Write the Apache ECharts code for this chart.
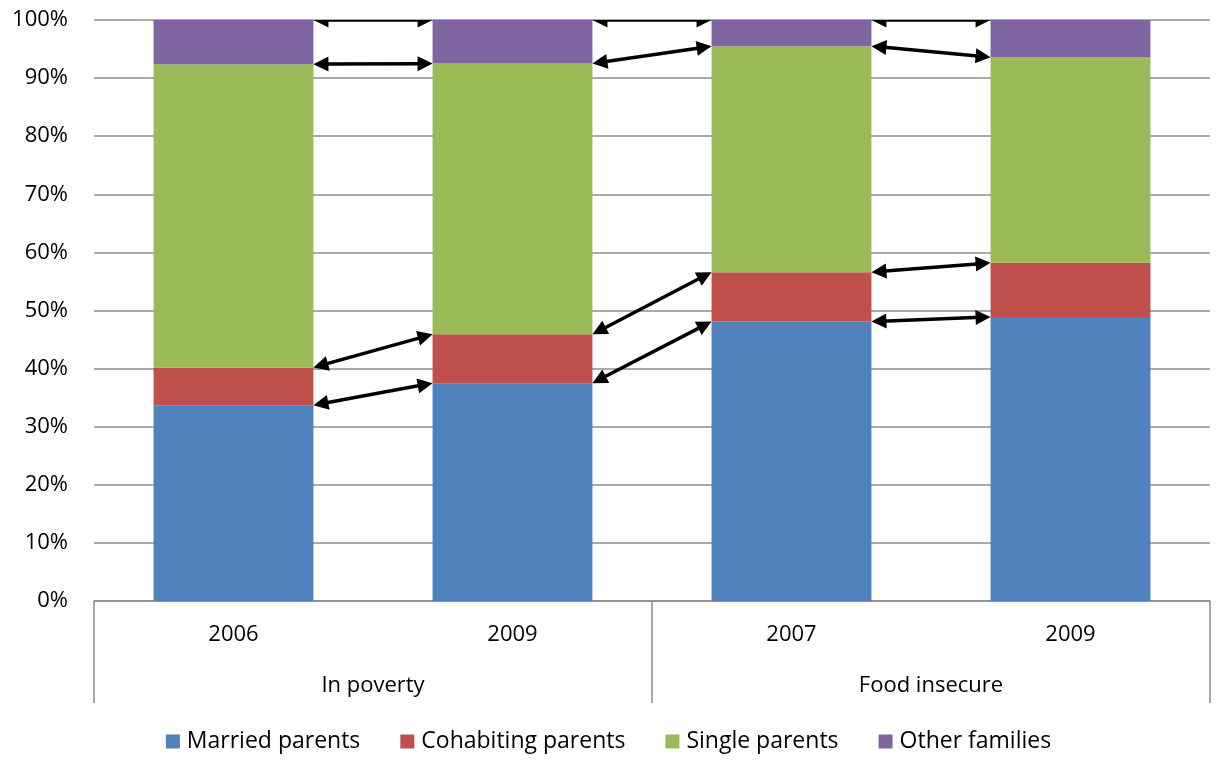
<!DOCTYPE html>
<html>
<head>
<meta charset="utf-8">
<script src="https://cdn.jsdelivr.net/npm/echarts@6/dist/echarts.min.js"></script>
<style>
html,body{margin:0;padding:0;background:#fff;}
#chart{width:1217px;height:762px;}
</style>
</head>
<body>
<div id="chart"></div>
<script>
const years = ['2006', '2009', '2007', '2009'];
const groups = ['In poverty', 'Food insecure'];
const seriesNames = ['Married parents', 'Cohabiting parents', 'Single parents', 'Other families'];
const married = [33.7, 37.5, 48.1, 48.9];
const cohabiting = [6.5, 8.4, 8.5, 9.3];
const single = [52.2, 46.6, 38.9, 35.4];
const other = [7.6, 7.5, 4.5, 6.4];
const yTicks = { min: 0, max: 100, interval: 10 };

const colors = ['#4F81BD', '#C0504D', '#9BBB59', '#8064A2'];
const FONT = 'Open Sans';
const BAR_RATIO = 0.573;

const layers = [married, cohabiting, single, other];
// cumulative tops of each layer
const cum = [];
layers.forEach((arr, k) => {
  cum.push(arr.map((v, i) => (k ? cum[k - 1][i] : 0) + v));
});
// arrows between adjacent bars at each boundary
const arrowData = [];
cum.forEach(c => {
  for (let i = 0; i < c.length - 1; i++) arrowData.push([i, c[i], c[i + 1]]);
});

function renderArrow(params, api) {
  const i = api.value(0);
  const a = api.coord([i, api.value(1)]);
  const b = api.coord([i + 1, api.value(2)]);
  const band = api.size([1, 0])[0];
  const half = band * BAR_RATIO / 2;
  const x1 = a[0] + half, y1 = a[1], x2 = b[0] - half, y2 = b[1];
  const dx = x2 - x1, dy = y2 - y1, len = Math.sqrt(dx * dx + dy * dy);
  const ux = dx / len, uy = dy / len, nx = -uy, ny = ux;
  const L = 15, W = 7.5;
  const style = { fill: '#000' };
  return {
    type: 'group',
    children: [
      { type: 'line', shape: { x1: x1 + ux * L * 0.7, y1: y1 + uy * L * 0.7, x2: x2 - ux * L * 0.7, y2: y2 - uy * L * 0.7 }, style: { stroke: '#000', lineWidth: 3.5 } },
      { type: 'polygon', shape: { points: [[x2, y2], [x2 - ux * L + nx * W, y2 - uy * L + ny * W], [x2 - ux * L - nx * W, y2 - uy * L - ny * W]] }, style },
      { type: 'polygon', shape: { points: [[x1, y1], [x1 + ux * L + nx * W, y1 + uy * L + ny * W], [x1 + ux * L - nx * W, y1 + uy * L - ny * W]] }, style }
    ]
  };
}

const chart = echarts.init(document.getElementById('chart'));
const series = layers.map((arr, k) => ({
  name: seriesNames[k],
  type: 'bar',
  stack: 'total',
  barWidth: (BAR_RATIO * 100) + '%',
  itemStyle: { color: colors[k] },
  data: arr,
  xAxisIndex: 0,
  yAxisIndex: 0
}));
series.push({
  type: 'custom',
  name: 'arrows',
  xAxisIndex: 0,
  yAxisIndex: 0,
  clip: true,
  silent: true,
  z: 5,
  encode: { x: 0, y: [1, 2] },
  data: arrowData,
  renderItem: renderArrow
});

chart.setOption({
  animation: false,
  textStyle: { fontFamily: FONT },
  grid: { left: 94, right: 7, top: 20, bottom: 161, containLabel: false },
  legend: {
    data: seriesNames,
    bottom: 4,
    left: 'center',
    itemWidth: 14,
    itemHeight: 14,
    itemGap: 40,
    icon: 'rect',
    textStyle: { fontFamily: FONT, fontSize: 23, color: '#000', padding: [0, 0, 0, 2] }
  },
  xAxis: [
    {
      type: 'category',
      data: years,
      position: 'bottom',
      axisLine: { show: true, lineStyle: { color: '#8c8c8c', width: 1.5 } },
      axisTick: { show: false },
      splitLine: { show: false },
      axisLabel: { fontFamily: FONT, fontSize: 22, color: '#000', margin: 23 }
    },
    {
      type: 'category',
      data: groups,
      position: 'bottom',
      axisLine: { show: false },
      axisTick: { show: true, length: 102, lineStyle: { color: '#8c8c8c', width: 1.5 } },
      splitLine: { show: false },
      axisLabel: { fontFamily: FONT, fontSize: 22, color: '#000', margin: 74 }
    }
  ],
  yAxis: {
    type: 'value',
    min: yTicks.min,
    max: yTicks.max,
    interval: yTicks.interval,
    axisLine: { show: false },
    axisTick: { show: false },
    splitLine: { show: true, lineStyle: { color: '#8c8c8c', width: 1.5 } },
    axisLabel: { formatter: '{value}%', fontFamily: FONT, fontSize: 22, color: '#000', margin: 26 }
  },
  series: series
});
</script>
</body>
</html>
